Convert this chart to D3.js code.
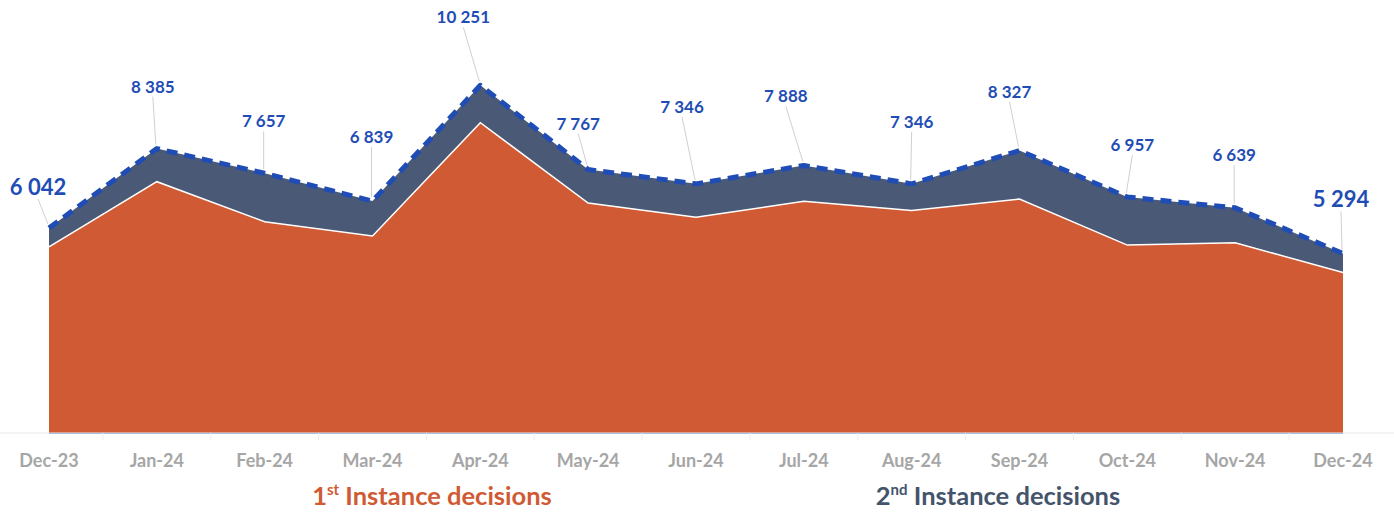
<!DOCTYPE html>
<html>
<head>
<meta charset="utf-8">
<script src="https://cdn.jsdelivr.net/npm/d3@7"></script>
<style>
  html, body { margin: 0; padding: 0; background: #fff; }
  svg { display: block; font-family: Lato, "Open Sans", sans-serif; }
</style>
</head>
<body>
<svg id="chart" width="1394" height="513"></svg>
<script>
const WIDTH = 1394;
const HEIGHT = 513;
const COLOR_FIRST = '#D05A33';
const COLOR_SECOND = '#4A5975';
const COLOR_TOTAL = '#1F4DB5';
const COLOR_AXIS_TEXT = '#A6A6A6';

// data
const months = ['Dec-23', 'Jan-24', 'Feb-24', 'Mar-24', 'Apr-24', 'May-24', 'Jun-24',
  'Jul-24', 'Aug-24', 'Sep-24', 'Oct-24', 'Nov-24', 'Dec-24'];
const firstInstance = [5490, 7410, 6230, 5810, 9150, 6780, 6360, 6830, 6560, 6900, 5540, 5610, 4730];
const totalDecisions = [6042, 8385, 7657, 6839, 10251, 7767, 7346, 7888, 7346, 8327, 6957, 6639, 5294];

// label placement (pixel offsets from each point to the label centre)
const labelOffsets = [[-11, -41], [-4, -62], [-1, -52], [-1, -64], [-17, -68], [-10, -46],
  [-14, -77], [-18, -69], [0, -62], [-10, -59], [5, -52], [-1, -53], [-2, -54]];

const rows = months.map((m, i) => ({
  month: m,
  first: firstInstance[i],
  total: totalDecisions[i],
}));

const svg = d3.select('#chart');

const x = d3.scalePoint()
  .domain(months)
  .range([49, 1343]);

const y = d3.scaleLinear()
  .domain([0, 12000])
  .range([433, 26]);

const step = x.step();

// 2nd instance (stacked on top of 1st -> filled to the total)
svg.append('path')
  .datum(rows)
  .attr('d', d3.area()
    .x(d => x(d.month))
    .y0(d => y(d.first))
    .y1(d => y(d.total)))
  .attr('fill', COLOR_SECOND);

// 1st instance
svg.append('path')
  .datum(rows)
  .attr('d', d3.area()
    .x(d => x(d.month))
    .y0(y(0))
    .y1(d => y(d.first)))
  .attr('fill', COLOR_FIRST);

svg.append('path')
  .datum(rows)
  .attr('d', d3.line()
    .x(d => x(d.month))
    .y(d => y(d.first)))
  .attr('fill', 'none')
  .attr('stroke', '#fff')
  .attr('stroke-width', 1.5);

// x axis
const axisG = svg.append('g');
axisG.append('line')
  .attr('x1', 0).attr('x2', WIDTH)
  .attr('y1', y(0)).attr('y2', y(0))
  .attr('stroke', '#E8E8E8')
  .attr('stroke-width', 1);
axisG.append('line')
  .attr('x1', x(months[0])).attr('x2', x(months[months.length - 1]))
  .attr('y1', y(0) + 0.5).attr('y2', y(0) + 0.5)
  .attr('stroke', '#A9C0E4')
  .attr('stroke-width', 1);

const tickXs = months.map(m => x(m) + step / 2);
axisG.selectAll('line.tick')
  .data(tickXs)
  .join('line')
  .attr('class', 'tick')
  .attr('x1', d => d).attr('x2', d => d)
  .attr('y1', y(0)).attr('y2', y(0) + 7)
  .attr('stroke', '#EDEDED');

axisG.selectAll('text.month')
  .data(months)
  .join('text')
  .attr('class', 'month')
  .attr('x', d => x(d))
  .attr('y', 467)
  .attr('text-anchor', 'middle')
  .attr('fill', COLOR_AXIS_TEXT)
  .attr('font-size', 18)
  .attr('font-weight', 'bold')
  .text(d => d);

// total dashed line
svg.append('path')
  .datum(rows)
  .attr('d', d3.line()
    .x(d => x(d.month))
    .y(d => y(d.total)))
  .attr('fill', 'none')
  .attr('stroke', COLOR_TOTAL)
  .attr('stroke-width', 5)
  .attr('stroke-dasharray', '11,7')
  .attr('stroke-linejoin', 'round');

// data labels with leader lines
const fmt = v => d3.format(',')(v).replace(/,/g, ' ');
const labelG = svg.append('g');
rows.forEach((d, i) => {
  const px = x(d.month);
  const py = y(d.total);
  const [dx, dy] = labelOffsets[i];
  const big = i === 0 || i === rows.length - 1;
  const lx = px + dx;
  const ly = py + dy;
  const half = big ? 12 : 10;
  labelG.append('line')
    .attr('x1', lx).attr('y1', ly + half)
    .attr('x2', px - 1).attr('y2', py - 4)
    .attr('stroke', '#D0D0D0')
    .attr('stroke-width', 1);
  labelG.append('text')
    .attr('x', lx)
    .attr('y', ly)
    .attr('dy', '0.35em')
    .attr('text-anchor', 'middle')
    .attr('fill', COLOR_TOTAL)
    .attr('font-size', big ? 22 : 17)
    .attr('font-weight', 'bold')
    .text(fmt(d.total));
});

// legend
const legend = [
  { sup: 'st', text: 'Instance decisions', num: '1', color: COLOR_FIRST, cx: 432 },
  { sup: 'nd', text: 'Instance decisions', num: '2', color: '#44546A', cx: 998 },
];
legend.forEach(l => {
  const t = svg.append('text')
    .attr('x', l.cx)
    .attr('y', 505)
    .attr('text-anchor', 'middle')
    .attr('fill', l.color)
    .attr('font-size', 25.5)
    .attr('font-weight', 'bold');
  t.append('tspan').text(l.num);
  t.append('tspan').attr('font-size', 15).attr('dy', -10).text(l.sup);
  t.append('tspan').attr('dy', 10).text(' ' + l.text);
});
</script>
</body>
</html>
